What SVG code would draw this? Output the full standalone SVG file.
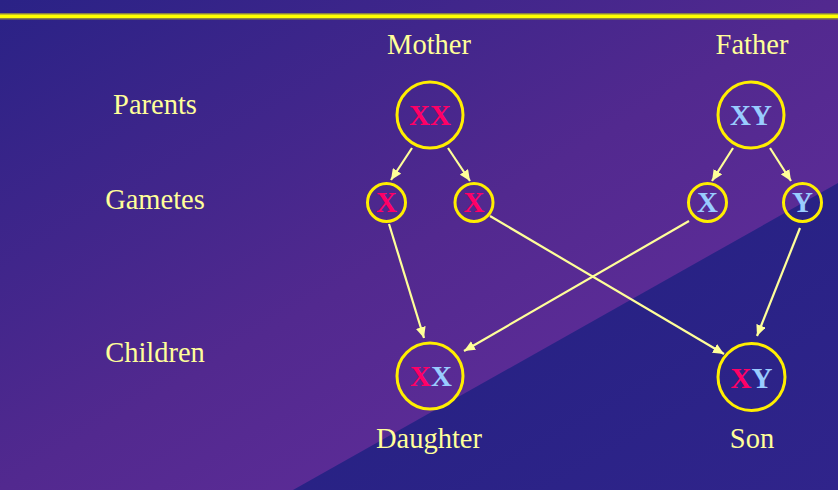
<svg xmlns="http://www.w3.org/2000/svg" width="838" height="490" viewBox="0 0 838 490">
<defs>
<linearGradient id="bg" x1="0" y1="0" x2="1" y2="1">
<stop offset="0" stop-color="#2a2286"/>
<stop offset="0.5" stop-color="#52298f"/>
<stop offset="1" stop-color="#682fa0"/>
</linearGradient>
<linearGradient id="tri" x1="0" y1="0" x2="1" y2="1">
<stop offset="0" stop-color="#21207f"/>
<stop offset="1" stop-color="#30248b"/>
</linearGradient>
<marker id="ah" markerUnits="userSpaceOnUse" markerWidth="12" markerHeight="10" refX="11" refY="5" orient="auto">
<path d="M0,0 L11,5 L0,10 z" fill="#ffff99"/>
</marker>
<style>
.lbl{font-family:"Liberation Serif","Times New Roman",serif;font-size:28.5px;fill:#ffff99;text-anchor:middle}
.chr{font-family:"Liberation Serif","Times New Roman",serif;font-size:29px;font-weight:bold;text-anchor:middle}
.r{fill:#ff0066}
.b{fill:#99ccff}
.ring{fill:none;stroke:#ffee00;stroke-width:3}
.arr{stroke:#ffff99;stroke-width:2.2;fill:none;marker-end:url(#ah)}
</style>
</defs>
<g id="background">
<rect x="0" y="0" width="838" height="490" fill="url(#bg)"/>
<polygon points="838,183 838,490 293,490" fill="url(#tri)"/>
<rect x="0" y="13" width="838" height="6.5" fill="#8a8244"/>
<rect x="0" y="14.5" width="838" height="3.5" fill="#ffff00"/>
</g>
<g id="row-labels">
<text class="lbl" x="155" y="114">Parents</text>
<text class="lbl" x="155" y="209">Gametes</text>
<text class="lbl" x="155" y="362">Children</text>
</g>
<g id="connectors">
<line class="arr" x1="412" y1="148" x2="391" y2="180"/>
<line class="arr" x1="448" y1="148" x2="470" y2="181"/>
<line class="arr" x1="733" y1="148" x2="712" y2="181"/>
<line class="arr" x1="770" y1="148" x2="791" y2="181"/>
<line class="arr" x1="389" y1="224" x2="424" y2="338"/>
<line class="arr" x1="490" y1="216" x2="724" y2="354"/>
<line class="arr" x1="689" y1="221" x2="464" y2="351"/>
<line class="arr" x1="800" y1="228" x2="757" y2="336"/>
</g>
<g id="mother">
<text class="lbl" x="429" y="54">Mother</text>
<circle class="ring" cx="430" cy="115" r="33"/>
<text class="chr r" x="430" y="125">XX</text>
</g>
<g id="father">
<text class="lbl" x="752" y="54">Father</text>
<circle class="ring" cx="751" cy="115" r="33"/>
<text class="chr b" x="751" y="125">XY</text>
</g>
<g id="gamete-mother-1">
<circle class="ring" cx="386.5" cy="202.5" r="19"/>
<text class="chr r" x="386.5" y="212">X</text>
</g>
<g id="gamete-mother-2">
<circle class="ring" cx="474" cy="202.5" r="19"/>
<text class="chr r" x="474" y="212">X</text>
</g>
<g id="gamete-father-x">
<circle class="ring" cx="707.5" cy="202.5" r="19"/>
<text class="chr b" x="707.5" y="212">X</text>
</g>
<g id="gamete-father-y">
<circle class="ring" cx="802.5" cy="202.5" r="19"/>
<text class="chr b" x="802.5" y="212">Y</text>
</g>
<g id="daughter">
<circle class="ring" cx="430" cy="376" r="33"/>
<text class="chr" x="431" y="386"><tspan class="r">X</tspan><tspan class="b">X</tspan></text>
<text class="lbl" x="429" y="448">Daughter</text>
</g>
<g id="son">
<circle class="ring" cx="751.5" cy="377" r="33.5"/>
<text class="chr" x="751.5" y="388"><tspan class="r">X</tspan><tspan class="b">Y</tspan></text>
<text class="lbl" x="752" y="448">Son</text>
</g>
</svg>
